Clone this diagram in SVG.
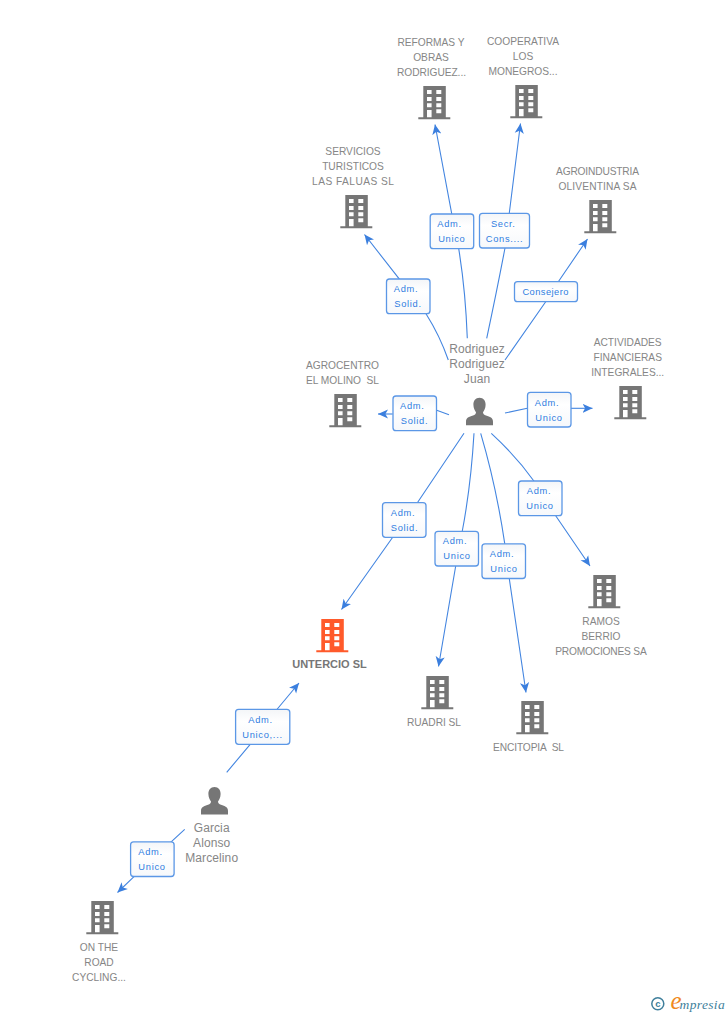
<svg xmlns="http://www.w3.org/2000/svg" width="728" height="1015" viewBox="0 0 728 1015">
<style>
text{font-family:"Liberation Sans",Arial,sans-serif;white-space:pre}
.n{font-size:10.2px;fill:#868686;text-anchor:middle}
.p{font-size:12px;letter-spacing:.1px;fill:#868686;text-anchor:middle}
.b{font-size:11px;font-weight:bold;fill:#767676;text-anchor:middle}
.l{font-size:9.3px;letter-spacing:.7px;fill:#2f7de1;text-anchor:middle}
.box{fill:url(#lg);stroke:#5b97e6;stroke-width:1.3}
.c{fill:none;stroke:#4385e0;stroke-width:1.1;marker-end:url(#ah)}
.s{fill:none;stroke:#4385e0;stroke-width:1.1}
</style>
<defs>
<linearGradient id="lg" x1="0" y1="0" x2="0" y2="1"><stop offset="0" stop-color="#f3f5f8"/><stop offset=".35" stop-color="#ffffff"/><stop offset="1" stop-color="#f6f8fb"/></linearGradient>
<marker id="ah" viewBox="0 0 10 10" refX="10" refY="5" markerWidth="10" markerHeight="10" markerUnits="userSpaceOnUse" orient="auto"><path d="M10,5 L0,0.4 L2.6,5 L0,9.6 Z" fill="#3b7fde"/></marker>
<symbol id="bld" width="32" height="34" viewBox="0 0 32 34" overflow="visible">
<path fill-rule="evenodd" d="M5,0H27.5V31.2H32V33.2H0V31.2H5ZM8.7,4V8H13.3V4ZM18,4V8H23V4ZM8.7,11V15H13.3V11ZM18,11V15H23V11ZM8.7,17.3V21.3H13.3V17.3ZM18,17.3V21.3H23V17.3ZM18,23.3V27.3H23V23.3ZM8.7,24V31.2H13.3V24Z"/>
</symbol>
<symbol id="per" width="27" height="28" viewBox="0 0 27 28" overflow="visible">
<path d="M13.5,0C17.5,0 19.6,3 19.6,7C19.6,10.5 18,13 17,14.5C17,16 18,17 20,17.8C24,19.2 27,20 27,24V27.5H0V24C0,20 3,19.2 7,17.8C9,17 10,16 10,14.5C9,13 7.4,10.5 7.4,7C7.4,3 9.5,0 13.5,0Z"/>
</symbol>
</defs>
<g id="connectors">
<path class="c" d="M467.3,338.3Q465.5,290 458.7,248.7L451.7,213.7L435,124.5"/>
<path class="c" d="M486.7,338.3Q497,290 505,248L509.3,213L520.5,123.5"/>
<path class="c" d="M448.3,360Q440,336 426,313.7L399,278.7L364.5,234.5"/>
<path class="c" d="M505,360L545.7,301.7L558.3,281.7L587.5,239"/>
<path class="s" d="M449,414.7L436.7,410.3"/>
<path class="c" d="M392.7,414L378,414"/>
<path class="s" d="M505,413L527.3,408.3"/>
<path class="c" d="M571,408.3L592.5,408.3"/>
<path class="c" d="M464,433.3L417.7,502.3L392.7,537.3L341.5,609.5"/>
<path class="c" d="M474,433.3Q471,485 462.3,531L455.7,566L438.5,666.5"/>
<path class="c" d="M480.7,433.3Q496,485 504.7,543.3L509.3,578.7L526,692.5"/>
<path class="c" d="M491.3,433.3Q516,456 533.7,480.7L555.7,515.7L590,566"/>
<path class="c" d="M226.7,772.3L250,744.7L277.3,709L299,683"/>
<path class="c" d="M184.7,829.3L171.7,841.3L134,876.7L117.5,892.5"/>
</g>
<g id="labels">
<g id="l-reformas"><rect class="box" x="430.2" y="214" width="43.5" height="34.7" rx="3"/><text class="l" x="449.5" y="227.3">Adm.</text><text class="l" x="451.8" y="242">Unico</text></g>
<g id="l-cooperativa"><rect class="box" x="479.5" y="213.3" width="50" height="34.7" rx="3"/><text class="l" x="503.3" y="227.3">Secr.</text><text class="l" x="504.6" y="242">Cons....</text></g>
<g id="l-servicios"><rect class="box" x="386.5" y="279" width="43.5" height="34.7" rx="3"/><text class="l" x="406" y="292.3">Adm.</text><text class="l" x="408" y="307">Solid.</text></g>
<g id="l-agroindustria"><rect class="box" x="514.5" y="281.7" width="63" height="20" rx="3"/><text class="l" x="545.6" y="295" style="letter-spacing:.45px">Consejero</text></g>
<g id="l-agrocentro"><rect class="box" x="393" y="396" width="43.5" height="34.7" rx="3"/><text class="l" x="412.3" y="409.3">Adm.</text><text class="l" x="414.5" y="424">Solid.</text></g>
<g id="l-actividades"><rect class="box" x="527.5" y="392.3" width="43.5" height="34.7" rx="3"/><text class="l" x="547" y="406">Adm.</text><text class="l" x="549" y="421">Unico</text></g>
<g id="l-untercio"><rect class="box" x="382.5" y="502.6" width="43.5" height="34.7" rx="3"/><text class="l" x="403" y="516">Adm.</text><text class="l" x="404.5" y="531">Solid.</text></g>
<g id="l-ruadri"><rect class="box" x="435" y="531.3" width="43.5" height="34.7" rx="3"/><text class="l" x="455" y="544">Adm.</text><text class="l" x="457" y="559">Unico</text></g>
<g id="l-encitopia"><rect class="box" x="482" y="543.8" width="43.5" height="34.7" rx="3"/><text class="l" x="502" y="557">Adm.</text><text class="l" x="504" y="572">Unico</text></g>
<g id="l-ramos"><rect class="box" x="518.5" y="481" width="43.5" height="34.7" rx="3"/><text class="l" x="539" y="494">Adm.</text><text class="l" x="540" y="509">Unico</text></g>
<g id="l-untercio2"><rect class="box" x="235.6" y="709.3" width="54.2" height="35" rx="3"/><text class="l" x="260.5" y="723">Adm.</text><text class="l" x="262.5" y="738">Unico,...</text></g>
<g id="l-ontheroad"><rect class="box" x="130.6" y="841.8" width="43.5" height="34.7" rx="3"/><text class="l" x="150.5" y="855">Adm.</text><text class="l" x="152" y="870">Unico</text></g>
</g>
<g id="n-reformas"><use href="#bld" x="418.3" y="86" fill="#767676"/><text class="n" x="431" y="46">REFORMAS Y</text><text class="n" x="431" y="61">OBRAS</text><text class="n" x="431.5" y="76" textLength="69">RODRIGUEZ...</text></g>
<g id="n-cooperativa"><use href="#bld" x="510.3" y="85" fill="#767676"/><text class="n" x="523" y="45">COOPERATIVA</text><text class="n" x="523" y="60">LOS</text><text class="n" x="523" y="75">MONEGROS...</text></g>
<g id="n-servicios"><use href="#bld" x="340.3" y="195" fill="#767676"/><text class="n" x="353" y="155">SERVICIOS</text><text class="n" x="353" y="170">TURISTICOS</text><text class="n" x="353" y="185" textLength="82">LAS FALUAS SL</text></g>
<g id="n-agroindustria"><use href="#bld" x="584.3" y="200" fill="#767676"/><text class="n" x="597.5" y="175" textLength="83">AGROINDUSTRIA</text><text class="n" x="597.5" y="190" textLength="78">OLIVENTINA SA</text></g>
<g id="n-rodriguez"><use href="#per" x="466" y="397.7" fill="#767676"/><text class="p" x="477" y="353">Rodriguez</text><text class="p" x="477" y="368">Rodriguez</text><text class="p" x="477" y="383">Juan</text></g>
<g id="n-agrocentro"><use href="#bld" x="329.3" y="394" fill="#767676"/><text class="n" x="342.5" y="369">AGROCENTRO</text><text class="n" x="342.5" y="384" textLength="73">EL MOLINO  SL</text></g>
<g id="n-actividades"><use href="#bld" x="614.3" y="386" fill="#767676"/><text class="n" x="627.7" y="346">ACTIVIDADES</text><text class="n" x="627.7" y="361">FINANCIERAS</text><text class="n" x="627.7" y="376">INTEGRALES...</text></g>
<g id="n-ramos"><use href="#bld" x="588.3" y="575" fill="#767676"/><text class="n" x="601" y="625">RAMOS</text><text class="n" x="601" y="640">BERRIO</text><text class="n" x="601" y="655" textLength="91.5">PROMOCIONES SA</text></g>
<g id="n-untercio"><use href="#bld" x="316.3" y="619" fill="#ff5a2b"/><text class="b" x="329.5" y="668">UNTERCIO SL</text></g>
<g id="n-ruadri"><use href="#bld" x="421.3" y="676" fill="#767676"/><text class="n" x="434" y="726" textLength="54">RUADRI SL</text></g>
<g id="n-encitopia"><use href="#bld" x="516.3" y="701" fill="#767676"/><text class="n" x="528.5" y="751" textLength="71">ENCITOPIA  SL</text></g>
<g id="n-garcia"><use href="#per" x="201" y="787" fill="#767676"/><text class="p" x="211.7" y="832">Garcia</text><text class="p" x="211.7" y="847">Alonso</text><text class="p" x="211.7" y="862">Marcelino</text></g>
<g id="n-ontheroad"><use href="#bld" x="86.3" y="901" fill="#767676"/><text class="n" x="99" y="951">ON THE</text><text class="n" x="99" y="966">ROAD</text><text class="n" x="99" y="981">CYCLING...</text></g>
<g id="logo"><circle cx="657.8" cy="1003.8" r="6" fill="none" stroke="#3f7f9c" stroke-width="1.5"/><text x="657.8" y="1007" font-size="9.5" font-weight="bold" fill="#3f7f9c" text-anchor="middle">c</text><text x="670.5" y="1008.5" font-style="italic" style="font-family:'Liberation Serif',serif"><tspan font-size="25" fill="#f08a1e">e</tspan><tspan font-size="13.5" fill="#3f7f9c" letter-spacing=".35" dx="-2">mpresia</tspan></text></g>
</svg>
